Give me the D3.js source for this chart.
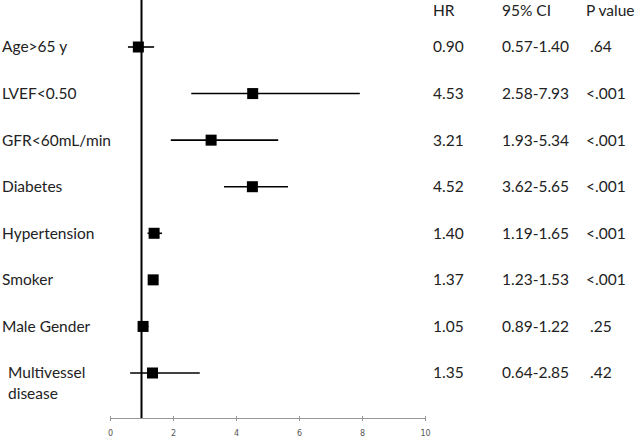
<!DOCTYPE html>
<html><head><meta charset="utf-8">
<script src="https://cdn.jsdelivr.net/npm/d3@7"></script>
<style>body{margin:0;background:#fff}svg{display:block}text{font-family:Lato,"Open Sans",sans-serif}</style>
</head><body><svg id="c" width="640" height="438"></svg>
<script>
const categories = ["Age>65 y","LVEF<0.50","GFR<60mL/min","Diabetes","Hypertension","Smoker","Male Gender","Multivessel disease"];
const hr = [0.90,4.53,3.21,4.52,1.40,1.37,1.05,1.35];
const ciLow = [0.57,2.58,1.93,3.62,1.19,1.23,0.89,0.64];
const ciHigh = [1.40,7.93,5.34,5.65,1.65,1.53,1.22,2.85];
const hrText = ["0.90","4.53","3.21","4.52","1.40","1.37","1.05","1.35"];
const ciText = ["0.57-1.40","2.58-7.93","1.93-5.34","3.62-5.65","1.19-1.65","1.23-1.53","0.89-1.22","0.64-2.85"];
const pText = [".64","<.001","<.001","<.001","<.001","<.001",".25",".42"];
const headers = ["HR","95% CI","P value"];
const xTicks = [0,2,4,6,8,10];
const refValue = 1;

const svg = d3.select("#c");
const x = d3.scaleLinear().domain([0,10]).range([110,425]);
const y = d3.scalePoint().domain(categories).range([47,373]);
const axisY = 418;
const fs = "15.5px";

// axis
const ax = svg.append("g").attr("transform",`translate(0,${axisY})`)
  .call(d3.axisBottom(x).tickValues(xTicks).tickSizeInner(3).tickSizeOuter(0).tickPadding(9).tickFormat(d3.format("d")));
ax.select(".domain").attr("stroke","#999");
ax.selectAll(".tick line").attr("stroke","#999").attr("y1",-2).attr("y2",3);
ax.selectAll(".tick text").attr("fill","#555").style("font-size","8px").style("font-family","'DejaVu Sans',sans-serif");

// reference line
svg.append("line").attr("x1",x(refValue)).attr("x2",x(refValue)).attr("y1",0).attr("y2",axisY)
  .attr("stroke","#000").attr("stroke-width",2);

const data = categories.map((c,i)=>({c,hr:hr[i],lo:ciLow[i],hi:ciHigh[i],i}));

svg.append("g").selectAll("line").data(data).join("line")
  .attr("x1",d=>x(d.lo)).attr("x2",d=>x(d.hi))
  .attr("y1",d=>y(d.c)).attr("y2",d=>y(d.c))
  .attr("stroke","#000").attr("stroke-width",1.6);

const s = 11;
svg.append("g").selectAll("rect").data(data).join("rect")
  .attr("x",d=>x(d.hr)-s/2).attr("y",d=>y(d.c)-s/2)
  .attr("width",s).attr("height",s).attr("fill","#000");

// labels
const lab = svg.append("g").selectAll("text").data(data).join("text")
  .attr("x",2).attr("y",d=>y(d.c)).attr("dy","0.35em")
  .attr("fill","#222").style("font-size",fs);
lab.each(function(d){
  const t = d3.select(this);
  const parts = d.c === "Multivessel disease" ? ["Multivessel","disease"] : [d.c];
  if(parts.length===1){ t.text(parts[0]); }
  else {
    t.attr("x",8).attr("dy",null);
    t.append("tspan").attr("x",8).attr("dy","0.35em").text(parts[0]);
    t.append("tspan").attr("x",8).attr("dy","1.35em").text(parts[1]);
  }
});

// table
const cols = [433,502,586];
svg.append("g").selectAll("text").data(headers).join("text")
  .attr("x",(d,i)=>cols[i]).attr("y",11).attr("dy","0.35em")
  .attr("fill","#222").style("font-size",fs).text(d=>d);
[hrText,ciText,pText].forEach((arr,j)=>{
  svg.append("g").selectAll("text").data(arr).join("text")
    .attr("x",(d)=>cols[j] + (j===2 && d[0]==="." ? 4 : 0))
    .attr("y",(d,i)=>y(categories[i])).attr("dy","0.35em")
    .attr("fill","#222").style("font-size",fs).text(d=>d);
});
</script></body></html>
